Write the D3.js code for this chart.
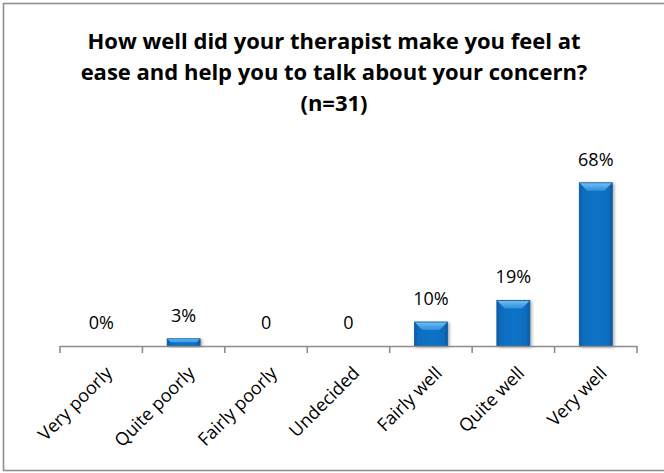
<!DOCTYPE html>
<html>
<head>
<meta charset="utf-8">
<script src="https://cdn.jsdelivr.net/npm/d3@7/dist/d3.min.js"></script>
<style>
  html, body { margin: 0; padding: 0; background: #fff; }
  svg { display: block; }
  text { font-family: "Open Sans", Lato, sans-serif; fill: #000; }
</style>
</head>
<body>
<div id="chart"></div>
<script>
// Survey responses (share of respondents, %)
const categories = ["Very poorly", "Quite poorly", "Fairly poorly", "Undecided", "Fairly well", "Quite well", "Very well"];
const values = [0, 3, 0, 0, 10, 19, 68];
const valueLabels = ["0%", "3%", "0", "0", "10%", "19%", "68%"];
const titleLines = [
  "How well did your therapist make you feel at",
  "ease and help you to talk about your concern?",
  "(n=31)"
];

const W = 664, H = 473;
const plot = { left: 60, right: 637, base: 346, top: 178 };

const svg = d3.select("#chart").append("svg")
  .attr("width", W).attr("height", H);

const defs = svg.append("defs");

// Horizontal shading across the bar face
const face = defs.append("linearGradient").attr("id", "face")
  .attr("x1", "0").attr("x2", "1").attr("y1", "0").attr("y2", "0");
face.append("stop").attr("offset", "0").attr("stop-color", "#0a5aa3");
face.append("stop").attr("offset", "0.12").attr("stop-color", "#0b6dbf");
face.append("stop").attr("offset", "0.5").attr("stop-color", "#0c73c6");
face.append("stop").attr("offset", "0.88").attr("stop-color", "#0b6dbf");
face.append("stop").attr("offset", "1").attr("stop-color", "#09589f");

// Light bevel on the top edge
const bevel = defs.append("linearGradient").attr("id", "bevel")
  .attr("x1", "0").attr("x2", "0").attr("y1", "0").attr("y2", "1");
bevel.append("stop").attr("offset", "0").attr("stop-color", "#6fbcf2");
bevel.append("stop").attr("offset", "1").attr("stop-color", "#2c8fdc");

// Soft shadow behind the bars
const shadow = defs.append("filter").attr("id", "shadow")
  .attr("x", "-30%").attr("y", "-10%").attr("width", "160%").attr("height", "130%");
shadow.append("feDropShadow")
  .attr("dx", 1.5).attr("dy", 1).attr("stdDeviation", 1.6)
  .attr("flood-color", "#000").attr("flood-opacity", 0.35);

// Outer frame
svg.append("rect")
  .attr("x", 3.5).attr("y", 3.5).attr("width", W + 10).attr("height", 467)
  .attr("fill", "none").attr("stroke", "#8f8f8f").attr("stroke-width", 1.6);

// Title
svg.append("g").selectAll("text").data(titleLines).join("text")
  .attr("x", 334)
  .attr("y", (d, i) => 49 + i * 31)
  .attr("text-anchor", "middle")
  .attr("font-weight", "bold")
  .attr("font-size", 22)
  .text(d => d);

// Scales
const x = d3.scaleBand()
  .domain(categories)
  .range([plot.left, plot.right])
  .paddingInner(0.6)
  .paddingOuter(0.3);

const y = d3.scaleLinear()
  .domain([0, 70])
  .range([plot.base, plot.top]);

// Bars
const bars = svg.append("g");
const data = categories.map((c, i) => ({ c, v: values[i], label: valueLabels[i] }));

const barG = bars.selectAll("g.bar").data(data.filter(d => d.v > 0)).join("g")
  .attr("class", "bar");

barG.append("rect")
  .attr("x", d => x(d.c))
  .attr("y", d => y(d.v))
  .attr("width", x.bandwidth())
  .attr("height", d => y(0) - y(d.v))
  .attr("fill", "url(#face)")
  .attr("stroke", "#0b5a9c")
  .attr("stroke-width", 0.8)
  .attr("filter", "url(#shadow)");

// Top bevel trapezoid
barG.append("path")
  .attr("d", d => {
    const x0 = x(d.c), x1 = x0 + x.bandwidth(), t = y(d.v);
    const h = Math.min(8, (y(0) - y(d.v)) / 2);
    const inset = Math.min(8, h);
    return `M${x0 + 0.5},${t + 0.5} L${x1 - 0.5},${t + 0.5} L${x1 - inset},${t + h} L${x0 + inset},${t + h} Z`;
  })
  .attr("fill", "url(#bevel)");

// Axis line and category boundary ticks
const axisG = svg.append("g");
axisG.append("line")
  .attr("x1", plot.left).attr("x2", plot.right)
  .attr("y1", plot.base + 0.5).attr("y2", plot.base + 0.5)
  .attr("stroke", "#8c8c8c").attr("stroke-width", 1.6);

const edges = d3.range(categories.length + 1).map(i => plot.left + i * x.step());
axisG.selectAll("line.tick").data(edges).join("line")
  .attr("class", "tick")
  .attr("x1", d => d).attr("x2", d => d)
  .attr("y1", plot.base).attr("y2", plot.base + 7)
  .attr("stroke", "#8c8c8c").attr("stroke-width", 1.6);

// Category labels, rotated
svg.append("g").selectAll("text").data(categories).join("text")
  .attr("transform", d => `translate(${x(d) + x.bandwidth() / 2 + 3},365) rotate(-45)`)
  .attr("text-anchor", "end")
  .attr("dy", "0.72em")
  .attr("font-size", 18)
  .text(d => d);

// Value labels
svg.append("g").selectAll("text").data(data).join("text")
  .attr("x", d => x(d.c) + x.bandwidth() / 2)
  .attr("y", d => y(d.v) - 17)
  .attr("text-anchor", "middle")
  .attr("font-size", 18)
  .text(d => d.label);
</script>
</body>
</html>
